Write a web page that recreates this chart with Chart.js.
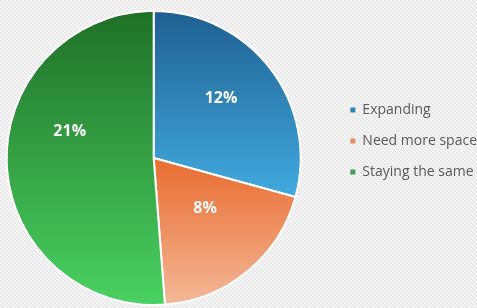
<!DOCTYPE html>
<html>
<head>
<meta charset="utf-8">
<script src="https://cdn.jsdelivr.net/npm/chart.js@4.4.0/dist/chart.umd.min.js"></script>
<style>
  html, body { margin: 0; padding: 0; background: #f0f0f0; overflow: hidden; }
  canvas { display: block; }
</style>
</head>
<body>
<canvas id="pieChart" width="477" height="308"></canvas>
<script>
// --- Données du graphique ---
const categories = ['Expanding', 'Need more space', 'Staying the same'];
const shares = [12, 8, 21];
const shareLabels = ['12%', '8%', '21%'];

// --- Couleurs (dégradés verticaux + pastilles de légende) ---
const sliceStops = [
    [[0, '#1f5f90'], [0.62, '#41a9de'], [1, '#45b0e4']],
    [[0.5, '#e96c30'], [1, '#f4b898']],
    [[0, '#1f7027'], [1, '#4ad262']]
];
const swatchColors = ['#2f83b8', '#e98c5e', '#3f9f52'];

function sliceGradient(chart, index) {
    const area = chart.chartArea;
    if (!area) return sliceStops[index][0][1];
    const g = chart.ctx.createLinearGradient(0, area.top, 0, area.bottom);
    sliceStops[index].forEach(([pos, col]) => g.addColorStop(pos, col));
    return g;
}

// Fond gris clair hachuré
const hatchBackground = {
    id: 'hatchBackground',
    beforeDraw(chart) {
        const tile = document.createElement('canvas');
        tile.width = 4; tile.height = 4;
        const t = tile.getContext('2d');
        t.fillStyle = '#f3f3f3';
        t.fillRect(0, 0, 4, 4);
        t.fillStyle = '#e3e3e3';
        for (let i = 0; i < 4; i++) t.fillRect(i, i, 1, 1);
        const { ctx, width, height } = chart;
        ctx.save();
        ctx.fillStyle = ctx.createPattern(tile, 'repeat');
        ctx.fillRect(0, 0, width, height);
        ctx.restore();
    }
};

// Décalage de la légende (placée plus à droite que la mise en page par défaut)
const legendShift = {
    id: 'legendShift',
    afterLayout(chart, args, opts) {
        const lg = chart.legend;
        lg.left += opts.dx;
        lg.right += opts.dx;
        lg.top += opts.dy;
        lg.bottom += opts.dy;
    }
};

// Étiquettes en pourcentage dans chaque part
const sliceLabels = {
    id: 'sliceLabels',
    afterDatasetsDraw(chart, args, opts) {
        const { ctx } = chart;
        const meta = chart.getDatasetMeta(0);
        ctx.save();
        ctx.font = 'bold 16px "Open Sans", sans-serif';
        ctx.fillStyle = '#fafafa';
        ctx.textAlign = 'center';
        ctx.textBaseline = 'middle';
        meta.data.forEach((arc, i) => {
            const { x, y, startAngle, endAngle, outerRadius } =
                arc.getProps(['x', 'y', 'startAngle', 'endAngle', 'outerRadius'], true);
            const p = opts.placement[i];
            const a = (startAngle + endAngle) / 2 + p.turn * Math.PI / 180;
            const r = outerRadius * p.r;
            ctx.fillText(shareLabels[i], x + r * Math.cos(a), y + r * Math.sin(a));
        });
        ctx.restore();
    }
};

Chart.defaults.font.family = '"Open Sans", sans-serif';

new Chart(document.getElementById('pieChart'), {
    type: 'pie',
    data: {
        labels: categories,
        datasets: [{
            data: shares,
            backgroundColor: ctx => sliceGradient(ctx.chart, ctx.dataIndex),
            borderColor: '#ffffff',
            borderWidth: 2
        }]
    },
    options: {
        responsive: false,
        animation: false,
        layout: { padding: { left: 5, top: 10, bottom: 2, right: 21 } },
        plugins: {
            tooltip: { enabled: false },
            legend: {
                position: 'right',
                labels: {
                    boxWidth: 5,
                    boxHeight: 5,
                    padding: 17,
                    color: '#595959',
                    font: { size: 14 },
                    generateLabels(chart) {
                        const items = Chart.overrides.pie.plugins.legend.labels.generateLabels(chart);
                        items.forEach((it, i) => {
                            it.fillStyle = swatchColors[i];
                            it.strokeStyle = swatchColors[i];
                            it.lineWidth = 0;
                        });
                        return items;
                    }
                }
            },
            legendShift: { dx: 31, dy: -17 },
            sliceLabels: {
                placement: [
                    { turn: -4, r: 0.61 },
                    { turn: -6, r: 0.49 },
                    { turn: 20, r: 0.6 }
                ]
            }
        }
    },
    plugins: [hatchBackground, legendShift, sliceLabels]
});
</script>
</body>
</html>
